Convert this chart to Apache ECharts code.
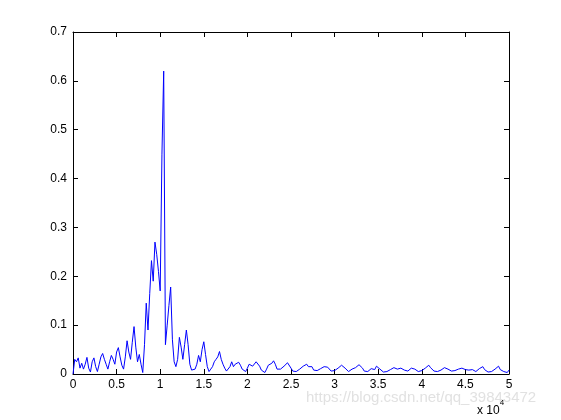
<!DOCTYPE html>
<html>
<head>
<meta charset="utf-8">
<script src="https://cdn.jsdelivr.net/npm/echarts@6/dist/echarts.min.js"></script>
<style>
html,body{margin:0;padding:0;background:#fff;}
#chart{width:561px;height:420px;}
</style>
</head>
<body>
<div id="chart"></div>
<script>
// sample spacing of the spectrum (x units)
var xStep = 200;
// amplitude values, one per sample (0 .. 50000)
var amplitudes = [
0.0,0.03,0.025,0.033,0.012,0.022,0.01,0.02,0.034,0.012,
0.004,0.025,0.033,0.015,0.005,0.02,0.035,0.042,0.03,0.02,
0.01,0.025,0.038,0.03,0.02,0.045,0.054,0.035,0.018,0.01,
0.035,0.068,0.045,0.03,0.065,0.097,0.055,0.025,0.04,0.02,
0.003,0.06,0.145,0.09,0.165,0.232,0.19,0.27,0.245,0.21,
0.17,0.45,0.62,0.06,0.1,0.14,0.178,0.07,0.025,0.015,
0.03,0.075,0.055,0.03,0.06,0.09,0.06,0.02,0.008,0.008,
0.01,0.02,0.038,0.025,0.05,0.066,0.04,0.015,0.005,0.01,
0.015,0.025,0.03,0.035,0.046,0.03,0.02,0.012,0.006,0.005,
0.015,0.025,0.015,0.02,0.024,0.024,0.018,0.01,0.007,0.005,
0.012,0.02,0.016,0.016,0.02,0.025,0.024,0.016,0.008,0.005,
0.003,0.01,0.018,0.02,0.022,0.027,0.02,0.01,0.007,0.01,
0.012,0.016,0.018,0.023,0.022,0.012,0.006,0.003,0.005,0.008,
0.01,0.013,0.016,0.018,0.02,0.015,0.012,0.015,0.008,0.005,
0.007,0.009,0.011,0.012,0.015,0.018,0.014,0.012,0.006,0.005,
0.007,0.01,0.012,0.015,0.018,0.02,0.012,0.008,0.005,0.007,
0.01,0.011,0.013,0.015,0.019,0.018,0.012,0.006,0.005,0.005,
0.008,0.011,0.01,0.009,0.016,0.013,0.01,0.006,0.004,0.003,
0.005,0.007,0.009,0.013,0.013,0.011,0.01,0.011,0.012,0.011,
0.008,0.005,0.006,0.008,0.012,0.016,0.01,0.007,0.005,0.006,
0.007,0.01,0.012,0.015,0.018,0.013,0.009,0.006,0.005,0.005,
0.005,0.008,0.011,0.013,0.016,0.01,0.007,0.006,0.005,0.007,
0.009,0.01,0.011,0.012,0.011,0.009,0.007,0.008,0.01,0.009,
0.007,0.005,0.006,0.011,0.013,0.015,0.009,0.006,0.004,0.003,
0.005,0.008,0.01,0.013,0.016,0.009,0.006,0.005,0.004,0.003,
0.008
];
var xTickLabels = ['0','0.5','1','1.5','2','2.5','3','3.5','4','4.5','5'];
var yTickLabels = ['0','0.1','0.2','0.3','0.4','0.5','0.6','0.7'];

var seriesData = amplitudes.map(function(v, i){ return [i * xStep, v]; });

var font = 'Liberation Sans, Arial, sans-serif';
var tickStyle = {show:true, inside:true, length:5, lineStyle:{color:'#000', width:1}};
var lineStyle = {show:true, onZero:false, lineStyle:{color:'#000', width:1}};

var chart = echarts.init(document.getElementById('chart'), null, {renderer:'canvas'});
chart.setOption({
  backgroundColor:'#fff',
  animation:false,
  grid:{left:73, right:52, top:32, bottom:46, containLabel:false},
  xAxis:[{
    type:'value', position:'bottom', min:0, max:50000, interval:5000,
    axisLine:lineStyle, axisTick:tickStyle, splitLine:{show:false},
    axisLabel:{color:'#000', fontFamily:font, fontSize:12, margin:5,
      formatter:function(v){ return xTickLabels[Math.round(v/5000)]; }}
  },{
    type:'value', position:'top', min:0, max:50000, interval:5000,
    axisLine:lineStyle, axisTick:tickStyle, splitLine:{show:false},
    axisLabel:{show:false}
  }],
  yAxis:[{
    type:'value', position:'left', min:0, max:0.7, interval:0.1,
    axisLine:lineStyle, axisTick:tickStyle, splitLine:{show:false},
    axisLabel:{color:'#000', fontFamily:font, fontSize:12, margin:6,
      formatter:function(v){ return yTickLabels[Math.round(v*10)]; }}
  },{
    type:'value', position:'right', min:0, max:0.7, interval:0.1,
    axisLine:lineStyle, axisTick:tickStyle, splitLine:{show:false},
    axisLabel:{show:false}
  }],
  series:[{
    type:'line', xAxisIndex:0, yAxisIndex:0, data:seriesData,
    showSymbol:false, symbol:'none', smooth:false,
    lineStyle:{color:'#0000ff', width:1}
  }],
  graphic:[{
    type:'text', left:477, top:399,
    style:{
      text:'{a|x 10}{b|4}',
      rich:{
        a:{fontFamily:font, fontSize:12, fill:'#000', padding:[6,0,0,0]},
        b:{fontFamily:font, fontSize:8, fill:'#000', verticalAlign:'top'}
      }
    }
  },{
    type:'text', left:306, top:390, z:-1,
    style:{text:'https://blog.csdn.net/qq_39843472', fontFamily:font, fontSize:15, fill:'rgba(200,200,200,0.55)'}
  }]
});
</script>
</body>
</html>
